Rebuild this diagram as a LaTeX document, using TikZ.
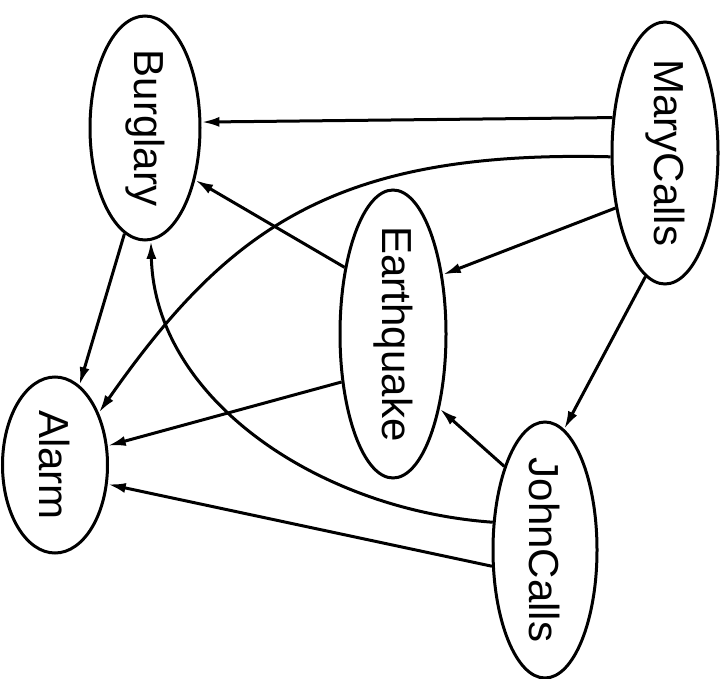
\documentclass[tikz,border=0pt]{standalone}
\usepackage{fontspec}
\setmainfont{Liberation Sans}
\usetikzlibrary{shapes.geometric,arrows.meta}

\begin{document}
\begin{tikzpicture}[x=1pt,y=-1pt,line width=3pt,
		font=\fontsize{42}{50}\selectfont,
		>={Latex[length=18pt,width=10pt]},
		randvar/.style={ellipse,draw,inner sep=0pt},
		varname/.style={rotate=-90}
		]
	\useasboundingbox (0,0) rectangle (725,679);
	% the five variables, names read top to bottom
	\node [randvar,minimum width=110pt,minimum height=224pt,label={[varname]center:Burglary}] (b) at (145,128) {};
	\node [randvar,minimum width=106pt,minimum height=262pt,label={[varname]center:MaryCalls}] (m) at (665,153) {};
	\node [randvar,minimum width=106pt,minimum height=288pt,label={[varname]center:Earthquake}] (e) at (393,334) {};
	\node [randvar,minimum width=105pt,minimum height=176pt,label={[varname]center:Alarm}] (a) at (55,465) {};
	\node [randvar,minimum width=104pt,minimum height=256pt,label={[varname]center:JohnCalls}] (j) at (545,550) {};
	% arcs
	\draw [->] (m.146) -- (b.6);
	\draw [->] (m.184) .. controls (335,150) and (228,228) .. (a.50);
	\draw [->] (b.259) -- (a.73);
	\draw [->] (e.126) -- (b.314);
	\draw [->] (m.228) -- (e.50);
	\draw [->] (m.261) -- (j.81);
	\draw [->] (j.116) -- (e.302);
	\draw [->] (e.223) -- (a.20);
	\draw [->] (j.197) -- (a.340);
	\draw [->] (j.152) .. controls (320,510) and (155,400) .. (b.273);
\end{tikzpicture}
\end{document}
